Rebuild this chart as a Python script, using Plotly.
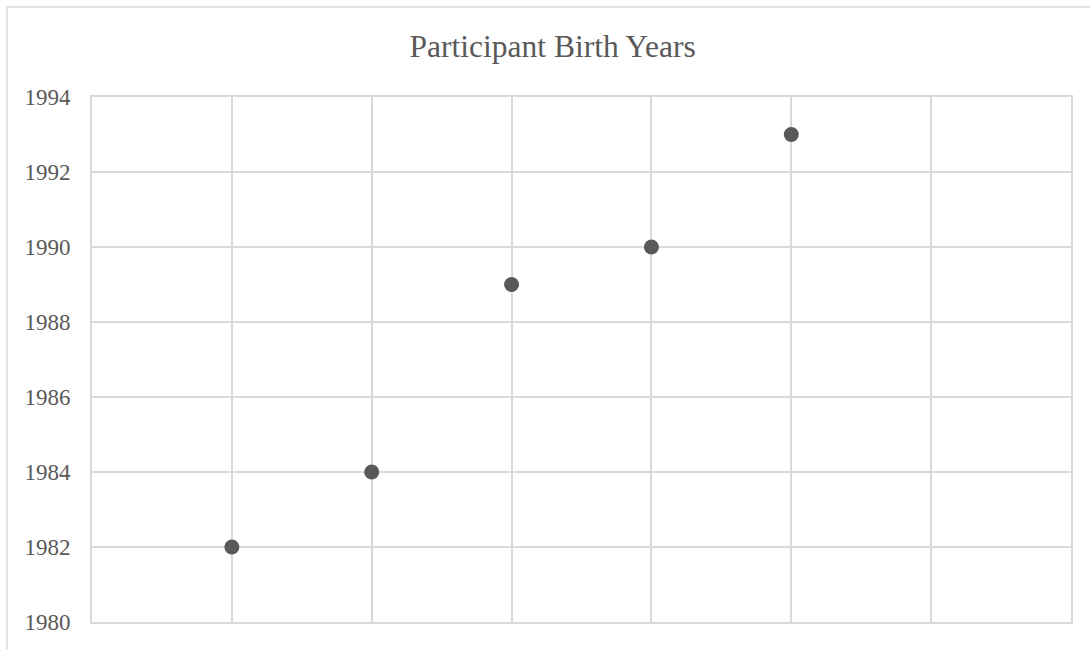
import plotly.graph_objects as go

# Participant index and birth year
participants = [1, 2, 3, 4, 5]
birth_years = [1982, 1984, 1989, 1990, 1993]

TEXT = "#595959"
GRID = "#d9d9d9"
FONT = "Liberation Serif"

fig = go.Figure(
    go.Scatter(
        x=participants,
        y=birth_years,
        mode="markers",
        marker=dict(size=15, color="#595959"),
        hoverinfo="x+y",
    )
)

fig.update_layout(
    width=1090,
    height=649,
    margin=dict(l=92, r=19, t=97, b=27),
    paper_bgcolor="white",
    plot_bgcolor="white",
    showlegend=False,
    font=dict(family=FONT, color=TEXT, size=23),
    title=dict(
        text="Participant Birth Years",
        font=dict(family=FONT, color=TEXT, size=31.5),
        x=0.507,
        xanchor="center",
        xref="container",
        y=0.929,
        yref="container",
        yanchor="middle",
    ),
    shapes=[
        # chart frame
        dict(
            type="rect",
            xref="paper",
            yref="paper",
            x0=-0.0868,
            x1=1.2,
            y0=-0.3,
            y1=1.1714,
            line=dict(color=GRID, width=1.5),
            layer="below",
        )
    ],
)

fig.update_xaxes(
    range=[0, 7],
    dtick=1,
    tick0=0,
    showgrid=True,
    gridcolor=GRID,
    gridwidth=2,
    showticklabels=False,
    zeroline=False,
    showline=True,
    linecolor=GRID,
    linewidth=2,
    mirror=True,
    ticks="",
)

fig.update_yaxes(
    range=[1980, 1994],
    dtick=2,
    tick0=1980,
    showgrid=True,
    gridcolor=GRID,
    gridwidth=2,
    zeroline=False,
    showline=True,
    linecolor=GRID,
    linewidth=2,
    mirror=True,
    ticks="",
    ticklabelstandoff=15,
    tickfont=dict(family=FONT, color=TEXT, size=23),
)

fig.write_html("out.html")
